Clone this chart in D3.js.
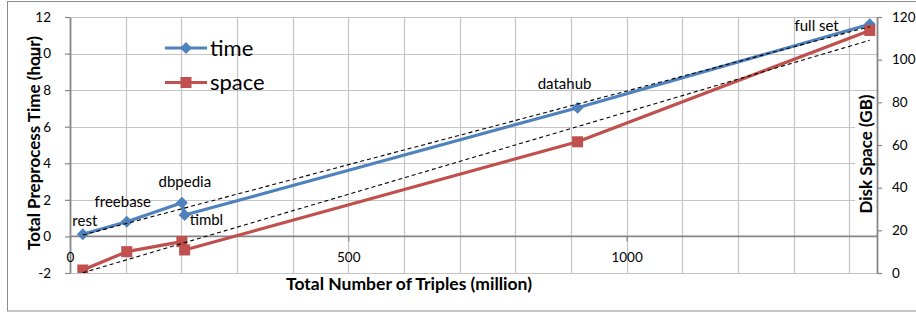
<!DOCTYPE html>
<html><head><meta charset="utf-8">
<script src="https://cdn.jsdelivr.net/npm/d3@7/dist/d3.min.js"></script>
<style>body{margin:0;background:#fff;} svg{display:block;font-family:Lato,"Open Sans",sans-serif;}</style>
</head><body>
<svg id="c" width="916" height="313"></svg>
<script>
// ---- data ----
const names = ["rest", "freebase", "dbpedia", "timbl", "datahub", "full set"];
const triples = [23, 102, 201, 206, 912, 1437];          // million
const timeHours = [0.12, 0.80, 1.84, 1.17, 7.04, 11.6];  // hours
const spaceGB = [1.4, 10.0, 14.7, 10.8, 61.5, 113.7];    // GB
const leftTicks = [-2, 0, 2, 4, 6, 8, 10, 12];
const rightTicks = [0, 20, 40, 60, 80, 100, 120];
const xTicks = [0, 500, 1000];
const xGrid = [100,200,300,400,500,600,700,800,900,1000,1100,1200,1300,1400];
const seriesNames = ["time", "space"];

// ---- layout ----
const L = 70, R = 877, T = 17, B = 273;
const blue = "#4F81BD", red = "#C0504D";
const svg = d3.select("#c");

svg.append("rect").attr("x",7.5).attr("y",1.5).attr("width",1000).attr("height",309.5)
  .attr("fill","none").attr("stroke","#8c8c8c").attr("stroke-width",1);

const x = d3.scaleLinear().domain([0,1450]).range([L,R]);
const yL = d3.scaleLinear().domain([-2,12]).range([B,T]);
const yR = d3.scaleLinear().domain([0,120]).range([B,T]);

// gridlines
const grid = svg.append("g").attr("stroke","#c4c4c4").attr("stroke-width",1.2);
grid.selectAll(".h").data(leftTicks).join("line")
  .attr("x1",L).attr("x2",R).attr("y1",d=>Math.round(yL(d))+0.5).attr("y2",d=>Math.round(yL(d))+0.5);
grid.selectAll(".v").data(xGrid).join("line")
  .attr("y1",T).attr("y2",B).attr("x1",d=>Math.round(x(d))+0.5).attr("x2",d=>Math.round(x(d))+0.5);

// axes
const fmt = d => String(d);
function styleAxis(g){
  g.selectAll("path").attr("stroke","#868686").attr("stroke-width",1.8);
  g.selectAll("line").attr("stroke","#868686").attr("stroke-width",1.2);
  g.selectAll("text").attr("fill","#000").style("font-size","13.5px").style("font-family","Lato, sans-serif");
}
svg.append("g").attr("transform",`translate(${L},0)`)
  .call(d3.axisLeft(yL).tickValues(leftTicks).tickFormat(fmt).tickSize(5).tickSizeOuter(0).tickPadding(14))
  .call(styleAxis);
svg.append("g").attr("transform",`translate(${R},0)`)
  .call(d3.axisRight(yR).tickValues(rightTicks).tickFormat(fmt).tickSize(5).tickSizeOuter(0).tickPadding(10))
  .call(styleAxis);
const xa = svg.append("g").attr("transform",`translate(0,${yL(0)})`)
  .call(d3.axisBottom(x).tickValues(xTicks).tickFormat(fmt).tickSize(5).tickSizeOuter(0).tickPadding(11))
  .call(styleAxis);
xa.select("path").attr("d",`M${L},0H${R}`);

// clip
svg.append("clipPath").attr("id","plot").append("rect")
  .attr("x",L).attr("y",T).attr("width",R-L).attr("height",B-T);
const plot = svg.append("g").attr("clip-path","url(#plot)");

const ptsT = triples.map((t,i)=>[x(t), yL(timeHours[i])]);
const ptsS = triples.map((t,i)=>[x(t), yR(spaceGB[i])]);
const line = d3.line();

plot.append("path").attr("d",line(ptsT)).attr("fill","none").attr("stroke",blue).attr("stroke-width",3.2).attr("stroke-linejoin","round");
plot.append("path").attr("d",line(ptsS)).attr("fill","none").attr("stroke",red).attr("stroke-width",3.2).attr("stroke-linejoin","round");

const diamond = (cx,cy,r)=>`M${cx},${cy-r}L${cx+r},${cy}L${cx},${cy+r}L${cx-r},${cy}Z`;
plot.selectAll(".dm").data(ptsT).join("path").attr("d",d=>diamond(d[0],d[1],6)).attr("fill",blue);
plot.selectAll(".sq").data(ptsS).join("rect").attr("x",d=>d[0]-5.5).attr("y",d=>d[1]-5.5)
  .attr("width",11).attr("height",11).attr("fill",red);

// linear trendlines (least squares, as drawn by the source chart)
function fit(xs, ys){
  const n=xs.length, mx=d3.mean(xs), my=d3.mean(ys);
  let sxy=0,sxx=0; for(let i=0;i<n;i++){sxy+=(xs[i]-mx)*(ys[i]-my); sxx+=(xs[i]-mx)**2;}
  const b=sxy/sxx, a=my-b*mx; return v=>a+b*v;
}
const fT = fit(triples,timeHours), fS = fit(triples,spaceGB);
const x0 = d3.min(triples), x1 = d3.max(triples);
plot.append("line").attr("x1",x(x0)).attr("x2",x(x1)).attr("y1",yL(fT(x0))).attr("y2",yL(fT(x1)))
  .attr("stroke","#000").attr("stroke-width",1.1).attr("stroke-dasharray","4,3");
plot.append("line").attr("x1",x(x0)).attr("x2",x(x1)).attr("y1",yR(fS(x0))).attr("y2",yR(fS(x1)))
  .attr("stroke","#000").attr("stroke-width",1.1).attr("stroke-dasharray","4,3");

// data labels
const labelPlace = [[2,-8,"middle"],[-4,-15,"middle"],[3,-16,"middle"],[5,10,"start"],[-13,-19,"middle"],[-31,7,"end"]];
svg.selectAll(".lbl").data(names).join("text")
  .attr("x",(d,i)=>ptsT[i][0]+labelPlace[i][0]).attr("y",(d,i)=>ptsT[i][1]+labelPlace[i][1])
  .attr("text-anchor",(d,i)=>labelPlace[i][2]).style("font-size","15px").attr("fill","#000").text(d=>d);

// legend
const lg = svg.append("g");
lg.append("line").attr("x1",165).attr("x2",207).attr("y1",48).attr("y2",48).attr("stroke",blue).attr("stroke-width",3.2);
lg.append("path").attr("d",diamond(186,48,6)).attr("fill",blue);
lg.append("line").attr("x1",165).attr("x2",207).attr("y1",82.5).attr("y2",82.5).attr("stroke",red).attr("stroke-width",3.2);
lg.append("rect").attr("x",180.5).attr("y",77).attr("width",11).attr("height",11).attr("fill",red);
lg.selectAll("text").data(seriesNames).join("text").attr("x",210).attr("y",(d,i)=>55.5+i*34)
  .style("font-size","22px").attr("fill","#000").text(d=>d);

// axis titles
svg.append("text").attr("transform","translate(40,143) rotate(-90)").attr("text-anchor","middle")
  .style("font-size","17px").style("font-weight","bold").attr("fill","#000").text("Total Preprocess Time (hour)");
svg.append("text").attr("x",409).attr("y",290).attr("text-anchor","middle")
  .style("font-size","17.5px").style("font-weight","bold").attr("fill","#000").text("Total Number of Triples (million)");
const rt = svg.append("g").attr("transform","translate(872,154) rotate(-90)");
const rtt = rt.append("text").attr("text-anchor","middle").style("font-size","17px").style("font-weight","bold")
  .attr("fill","#000").text("Disk Space (GB)");
const bb = rtt.node().getBBox();
rt.insert("rect","text").attr("x",bb.x-2).attr("y",bb.y).attr("width",bb.width+4).attr("height",bb.height).attr("fill","#fff");
</script>
</body></html>
